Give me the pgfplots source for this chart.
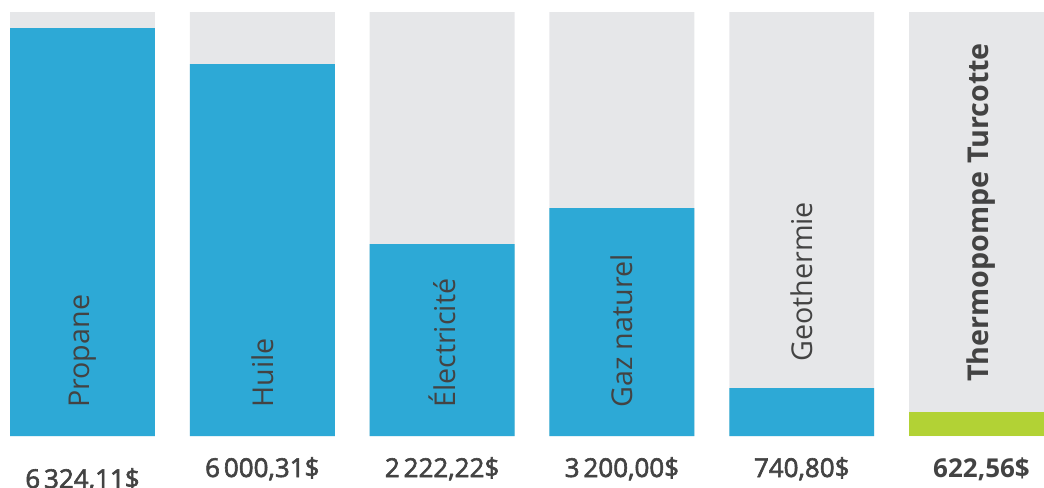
\documentclass[border=0pt]{standalone}
\usepackage{pgfplots}
\pgfplotsset{compat=1.18}
\usepackage{fontspec}
\setmainfont{Open Sans}
\definecolor{bgbar}{HTML}{E6E7E9}
\definecolor{bluebar}{HTML}{2DA9D6}
\definecolor{greenbar}{HTML}{B2D235}
\definecolor{txt}{HTML}{434343}
\newcommand{\labfont}{\fontsize{21.5pt}{24pt}\selectfont\color{txt}}
\newcommand{\valfont}{\fontsize{19.5pt}{22pt}\selectfont\color{txt}}
\newcommand{\nsp}{\hspace{0.15em}}
% semibold look: fill + thin stroke of the regular face
\newcommand{\semib}[1]{\special{pdf:literal direct 2 Tr 0.45 w}#1\special{pdf:literal direct 0 Tr}}

\begin{document}
\begin{tikzpicture}
\begin{axis}[
    name=ax,
    width=783pt, height=365.25pt,
    scale only axis,
    hide axis,
    xmin=-0.4588, xmax=5.3476,
    ymin=-51, ymax=436,
    clip=false,
]
% gray full-height background bars
\addplot[ybar, bar width=0.806, bar shift=0pt, fill=bgbar, draw=none]
    coordinates {(0,424) (1,424) (2,424) (3,424) (4,424) (5,424)};
% blue bars (heights as drawn)
\addplot[ybar, bar width=0.806, bar shift=0pt, fill=bluebar, draw=none]
    coordinates {(0,408) (1,372) (2,192) (3,228) (4,48)};
% green bar
\addplot[ybar, bar width=0.806, bar shift=0pt, fill=greenbar, draw=none]
    coordinates {(5,24)};

% labels inside bars
\node[rotate=90, anchor=west, inner sep=0, font=\labfont] at (axis cs:0,28) {Propane};
\node[rotate=90, anchor=west, inner sep=0, font=\labfont] at (axis cs:1,28) {Huile};
\node[rotate=90, anchor=west, inner sep=0, font=\labfont] at (axis cs:2,28) {Électricité};
\node[rotate=90, anchor=west, inner sep=0, font=\labfont] at (axis cs:3,28) {Gaz naturel};
\node[rotate=90, anchor=west, inner sep=0, font=\labfont] at (axis cs:4,74) {Geothermie};
\node[rotate=90, anchor=west, inner sep=0, font=\labfont\bfseries] at (axis cs:5,54) {Thermopompe Turcotte};

% values below bars
\node[anchor=base, inner sep=0, font=\valfont] at (axis cs:0,-52) {\semib{6\nsp324,11\$}};
\node[anchor=base, inner sep=0, font=\valfont] at (axis cs:1,-41) {\semib{6\nsp000,31\$}};
\node[anchor=base, inner sep=0, font=\valfont] at (axis cs:2,-41) {\semib{2\nsp222,22\$}};
\node[anchor=base, inner sep=0, font=\valfont] at (axis cs:3,-41) {\semib{3\nsp200,00\$}};
\node[anchor=base, inner sep=0, font=\valfont] at (axis cs:4,-41) {\semib{740,80\$}};
\node[anchor=base, inner sep=0, font=\valfont\bfseries] at (axis cs:5,-41) {622,56\$};
\end{axis}
\pgfresetboundingbox
\path[use as bounding box] (ax.south west) rectangle (ax.north east);
\end{tikzpicture}
\end{document}
